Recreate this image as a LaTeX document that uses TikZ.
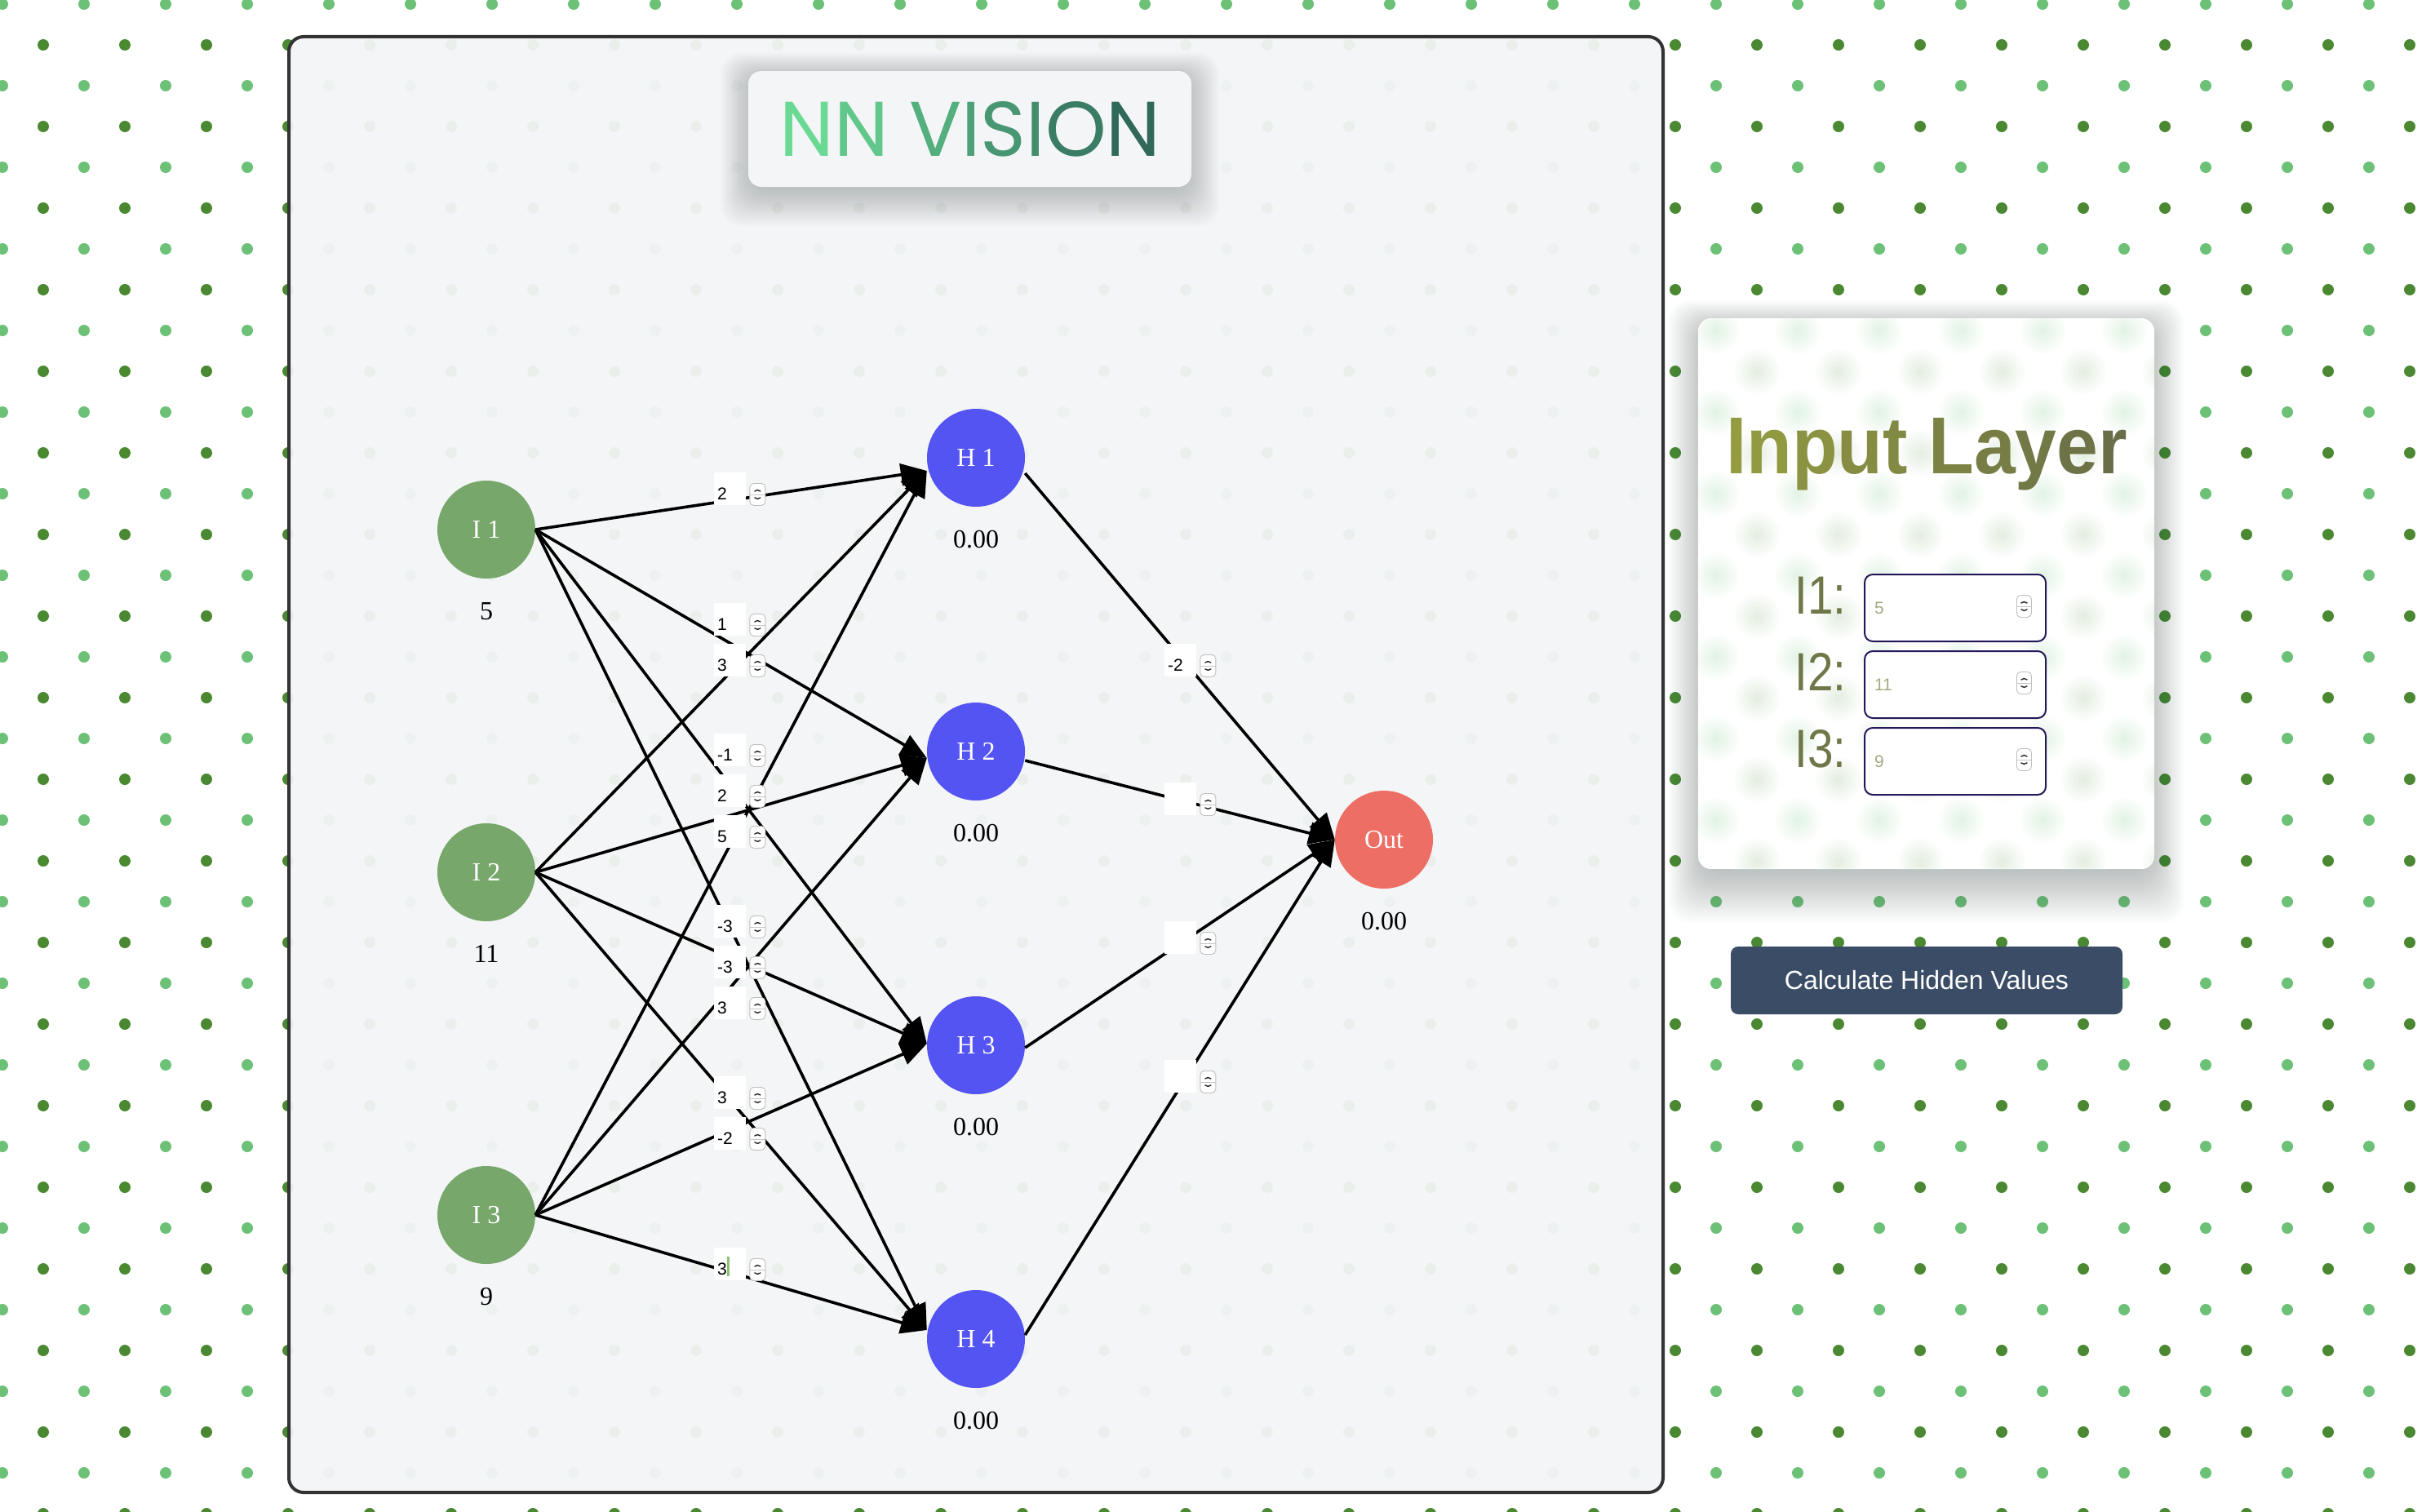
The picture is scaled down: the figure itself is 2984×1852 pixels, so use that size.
\documentclass[tikz,border=0pt]{standalone}
\usepackage{fontspec}
\setmainfont{Liberation Serif}
\newfontfamily\sansf{Liberation Sans}
\newfontfamily\titlef{Poppins}
\usetikzlibrary{arrows.meta,calc}
\newcommand\fsz[1]{\fontsize{#1}{#1}\selectfont}
\definecolor{dotdark}{RGB}{74,137,50}
\definecolor{dotlight}{RGB}{108,193,119}
\definecolor{panelbg}{RGB}{244,245,247}
\definecolor{panelborder}{RGB}{51,51,51}
\definecolor{inode}{RGB}{119,167,107}
\definecolor{hnode}{RGB}{84,84,242}
\definecolor{onode}{RGB}{236,110,100}
\definecolor{titleA}{RGB}{108,221,150}
\definecolor{titleB}{RGB}{46,100,88}
\definecolor{ilA}{RGB}{148,157,64}
\definecolor{ilB}{RGB}{104,108,72}
\definecolor{labcol}{RGB}{111,118,72}
\definecolor{boxborder}{RGB}{37,24,90}
\definecolor{phcol}{RGB}{165,170,128}
\definecolor{btncol}{RGB}{59,77,102}
\definecolor{caretgreen}{RGB}{139,192,112}
\definecolor{shadowcol}{RGB}{60,80,80}
\tikzset{
  neuron/.style={circle, minimum size=120pt, inner sep=0pt, text=white, font=\fsz{32}},
  inp/.style={neuron, fill=inode},
  hid/.style={neuron, fill=hnode},
  outn/.style={neuron, fill=onode},
  val/.style={anchor=base, inner sep=0pt, font=\fsz{32}},
  conn/.style={line width=3.6pt, -{Triangle[length=32pt,width=27pt]}},
  wbox/.style={fill=white, anchor=north west, minimum width=39pt, minimum height=40pt,
    text width=31pt, inner xsep=4pt, inner ysep=0pt, align=left,
    text height=27pt, text depth=0pt, font=\sansf\fsz{21}},
  spin/.style={draw=black!25, fill=white, rounded corners=5pt, minimum width=19pt,
    minimum height=27pt, inner sep=0pt, anchor=north west, line width=0.9pt,
    path picture={
      \draw[black!22, line width=0.9pt] (path picture bounding box.west) -- (path picture bounding box.east);
      \draw[black!85, line width=1.4pt, line cap=round, line join=round]
        ($(path picture bounding box.center)+(-3.5,-4)$) -- ++(3.5,-3.5) -- ++(3.5,3.5);
      \draw[black!85, line width=1.4pt, line cap=round, line join=round]
        ($(path picture bounding box.center)+(-3.5,4)$) -- ++(3.5,3.5) -- ++(3.5,-3.5);
    }},
  inbox/.style={draw=boxborder, line width=2pt, fill=white, rounded corners=10pt,
    anchor=north west, minimum height=82pt, text width=198pt, inner xsep=12pt,
    align=left, text=phcol, font=\sansf\fsz{21}},
  inlab/.style={anchor=base west, inner sep=0pt, text=labcol, font=\sansf\fsz{66}},
}
\begin{document}
\begin{tikzpicture}[x=1pt,y=-1pt]
\useasboundingbox (0,0) rectangle (2984,1852);
\fill[white] (0,0) rectangle (2984,1852);
% page dots
\foreach \i in {0,...,29}{
  \foreach \j in {0,...,18}{
    \fill[dotlight] (3+100*\i,5+100*\j) circle[radius=7pt];
    \fill[dotdark] (53+100*\i,55+100*\j) circle[radius=7pt];
  }
}
% main panel
\draw[line width=4pt, draw=panelborder, fill=panelbg, fill opacity=0.95, rounded corners=18pt]
  (354,45) rectangle (2038,1829);
% title box with soft shadow
\foreach \k in {1,...,20}{
  \fill[shadowcol, opacity=0.014, rounded corners=24pt] (917+6-2*\k,87+10-1.6*\k) rectangle (1460-6+2*\k,229+2.4*\k);
}
\node[fill=panelbg, rounded corners=16pt, minimum width=543pt, minimum height=142pt, inner sep=0pt]
  (title) at (1188.5,158) {};
\node[font=\titlef\fsz{95}, inner sep=0pt] (titletext) at (1189,158)
  {\textcolor{titleB!3!titleA}{N}\textcolor{titleB!18!titleA}{N} \textcolor{titleB!38!titleA}{V}\textcolor{titleB!50!titleA}{I}\textcolor{titleB!58!titleA}{S}\textcolor{titleB!67!titleA}{I}\textcolor{titleB!80!titleA}{O}\textcolor{titleB!97!titleA}{N}};
% neurons
\node[inp] (I1) at (596,649) {I 1};
\node[inp] (I2) at (596,1069) {I 2};
\node[inp] (I3) at (596,1489) {I 3};
\node[hid] (H1) at (1196,561) {H 1};
\node[hid] (H2) at (1196,921) {H 2};
\node[hid] (H3) at (1196,1281) {H 3};
\node[hid] (H4) at (1196,1641) {H 4};
\node[outn] (Out) at (1696,1029) {Out};
\node[val] (vI1) at (596,759) {5};
\node[val] (vI2) at (596,1179) {11};
\node[val] (vI3) at (596,1599) {9};
\node[val] (vH1) at (1196,671) {0.00};
\node[val] (vH2) at (1196,1031) {0.00};
\node[val] (vH3) at (1196,1391) {0.00};
\node[val] (vH4) at (1196,1751) {0.00};
\node[val] (vO) at (1696,1139) {0.00};
% connections
\foreach \i in {1,2,3}{
  \foreach \j/\dy in {1/16,2/8,3/-2,4/-11}{
    \draw[conn] (I\i.east) -- ($(H\j.west)+(0,\dy)$);
  }
}
\foreach \j/\dy in {1/19,2/11,3/3,4/-5}{
  \draw[conn] ($(H\j.east)+(0,\dy)$) -- (Out.west);
}
% weight inputs
\foreach \n/\t/\v in {a/579/2, b/739/1, c/789/3, d/899/-1, e/949/2, f/999/5, g/1109/-3, h/1159/-3, k/1209/3, m/1319/3, p/1369/-2}{
  \node[wbox] (w\n) at (875,\t) {\v};
  \node[spin] (s\n) at ($(w\n.north east)+(4,13)$) {};
}
\node[wbox] (wq) at (875,1529) {3\kern0.5pt\textcolor{caretgreen}{\rule[-1pt]{2.5pt}{24pt}}};
\node[spin] (sq) at ($(wq.north east)+(4,13)$) {};
\foreach \n/\t/\v in {o1/789/-2, o2/959/, o3/1129/, o4/1299/}{
  \node[wbox] (w\n) at (1427,\t) {\v};
  \node[spin] (s\n) at ($(w\n.north east)+(4,13)$) {};
}
% input layer panel soft shadow
\foreach \k in {1,...,22}{
  \fill[shadowcol, opacity=0.014, rounded corners=26pt] (2081+8-2*\k,390+14-1.6*\k) rectangle (2640-8+2*\k,1065+3*\k);
}
\begin{scope}
  \clip[rounded corners=16pt] (2081,390) rectangle (2640,1065);
  \fill[white] (2081,390) rectangle (2640,1065);
  \foreach \i in {20,...,27}{
    \foreach \j in {3,...,11}{
      \shade[inner color=dotlight!20!white, outer color=white] (3+100*\i,5+100*\j) circle[radius=30pt];
      \shade[inner color=dotdark!15!white, outer color=white] (53+100*\i,55+100*\j) circle[radius=30pt];
    }
  }
\end{scope}
\node[anchor=base, inner sep=0pt, font=\sansf\bfseries\fsz{99}] (iltitle) at (2361,580)
  {\scalebox{0.922}[1]{\textcolor{ilB!2!ilA}{I}\textcolor{ilB!8!ilA}{n}\textcolor{ilB!20!ilA}{p}\textcolor{ilB!32!ilA}{u}\textcolor{ilB!41!ilA}{t} \textcolor{ilB!55!ilA}{L}\textcolor{ilB!66!ilA}{a}\textcolor{ilB!76!ilA}{y}\textcolor{ilB!86!ilA}{e}\textcolor{ilB!96!ilA}{r}}};
\node[inlab] (l1) at (2199,752) {\scalebox{0.86}[1]{I1:}};
\node[inlab] (l2) at (2199,846) {\scalebox{0.86}[1]{I2:}};
\node[inlab] (l3) at (2199,940) {\scalebox{0.86}[1]{I3:}};
\node[inbox] (in1) at (2284,703) {5};
\node[inbox] (in2) at (2284,797) {11};
\node[inbox] (in3) at (2284,891) {9};
\node[spin, minimum width=18pt] (is1) at (2471,729) {};
\node[spin, minimum width=18pt] (is2) at (2471,823) {};
\node[spin, minimum width=18pt] (is3) at (2471,917) {};
% button
\node[fill=btncol, rounded corners=9pt, minimum width=480pt, minimum height=83pt, inner sep=0pt,
  text=white, font=\sansf\fsz{32}] (calc) at (2361,1201.5) {Calculate Hidden Values};
\end{tikzpicture}
\end{document}
